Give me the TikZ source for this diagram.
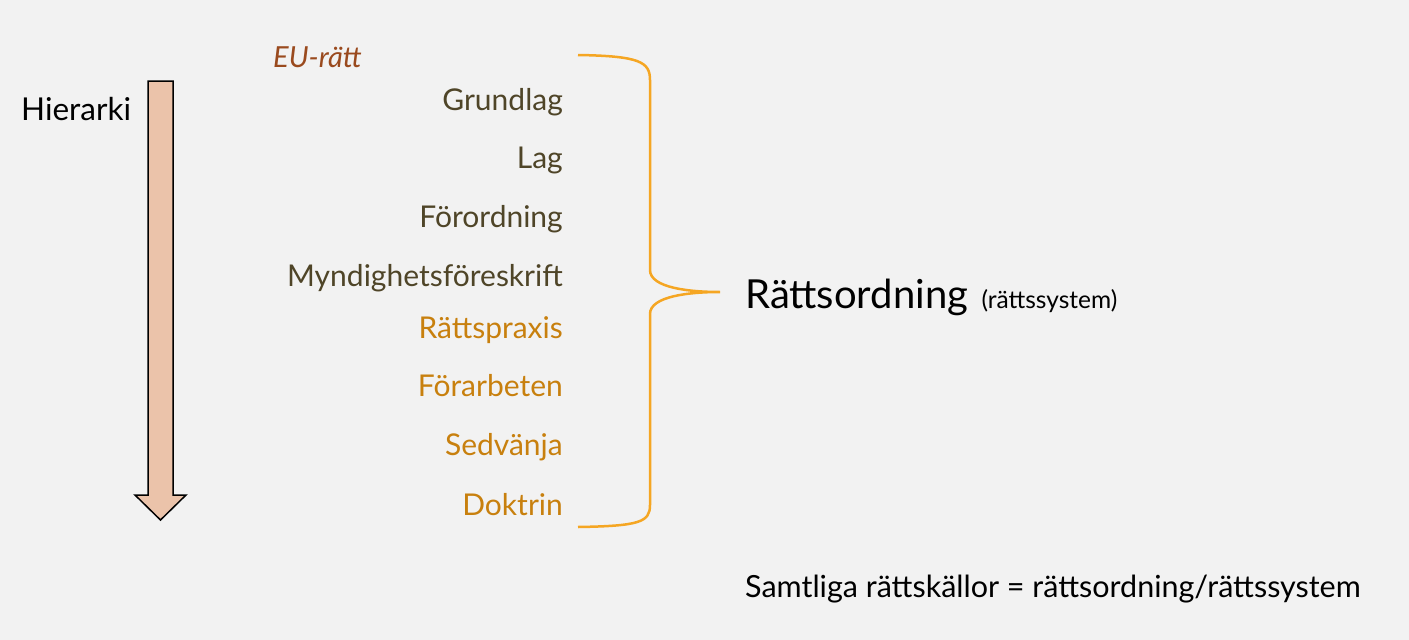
\documentclass[tikz,border=0pt]{standalone}
\usepackage{fontspec}
\setmainfont{Lato}
\usetikzlibrary{positioning}

\definecolor{slidebg}{HTML}{F2F2F2}
\definecolor{peach}{HTML}{EBC3AA}
\definecolor{olivetext}{HTML}{4F4528}
\definecolor{ambertext}{HTML}{C8800E}
\definecolor{eubrown}{HTML}{9A4A1E}
\definecolor{braceorange}{HTML}{F5A623}

\tikzset{
  lvl/.style={anchor=base east, inner sep=0pt, font=\fontsize{30}{35}\selectfont},
  law/.style={lvl, text=olivetext},
  src/.style={lvl, text=ambertext},
  plain/.style={anchor=base west, inner sep=0pt, font=\fontsize{30.5}{36}\selectfont}
}

\begin{document}
\begin{tikzpicture}[x=1pt, y=-1pt]
    \fill [slidebg] (0, 0) rectangle (1409, 640);
    % hierarchy arrow
    \draw [line width=1.5pt, fill=peach]
          (148, 81) -- (173, 81) -- (173, 495) -- (186, 495) -- (160.5, 520)
          -- (135, 495) -- (148, 495) -- cycle;
    \node [plain, font=\fontsize{31.5}{37}\selectfont] (hier) at (21, 120) {Hierarki};
    % EU
    \node [anchor=base west, inner sep=0pt, text=eubrown,
           font=\fontsize{29}{34}\selectfont\itshape] (eu) at (273, 67) {EU-rätt};
    % written law
    \node [law]     (grund)  at (563, 110) {Grundlag};
    \node [law]     (lag)    at (563, 168) {Lag};
    \node [law]     (forord) at (563, 227) {Förordning};
    \node [law]     (mynd)   at (563, 286) {Myndighetsföreskrift};
    % other sources
    \node [src]     (praxis) at (563, 338) {Rättspraxis};
    \node [src]     (forarb) at (563, 396) {Förarbeten};
    \node [src]     (sed)    at (563, 455) {Sedvänja};
    \node [src]     (dokt)   at (563, 515) {Doktrin};
    % brace
    \coordinate (tip) at (720, 292);
    \draw [braceorange, line width=2.5pt]
          (578, 55) .. controls (640, 56) and (650, 62) .. (650, 80)
          -- (650, 270) .. controls (650, 288) and (690, 292) .. (tip)
          .. controls (690, 292) and (650, 296) .. (650, 314)
          -- (650, 505) .. controls (650, 522) and (640, 526) .. (578, 527);
    \node [plain, font=\fontsize{40}{46}\selectfont] (ordning) at (745, 308) {Rättsordning};
    \node [inner sep=0pt, font=\fontsize{24.5}{29}\selectfont,
           right=13pt of ordning.base east, anchor=base west] (system) {(rättssystem)};
    \node [plain]   (samtliga) at (745, 597) {Samtliga rättskällor = rättsordning/rättssystem};
\end{tikzpicture}
\end{document}
